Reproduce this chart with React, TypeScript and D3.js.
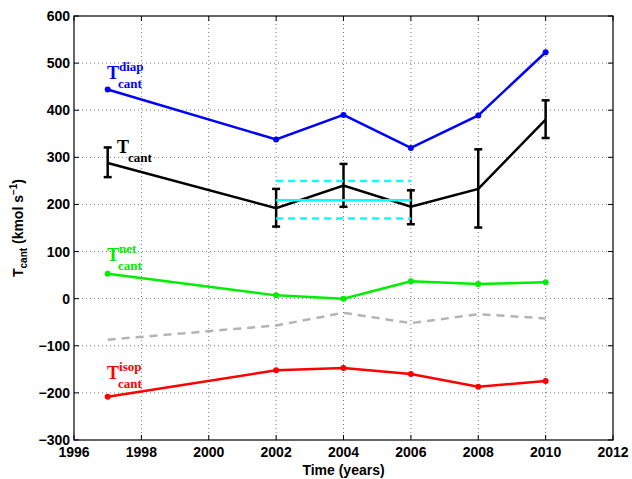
import React from 'react';
import * as d3 from 'd3';

// values
const years = [1997, 2002, 2004, 2006, 2008, 2010];
const diap = [444, 338, 390, 320, 389, 523];
const total = [288, 192, 240, 195, 233, 380];
const totalLo = [258, 153, 195, 158, 151, 341];
const totalHi = [321, 233, 286, 230, 317, 421];
const net = [53, 7, 0, 37, 31, 35];
const other = [-87, -57, -30, -52, -33, -42];
const isop = [-208, -152, -147, -160, -187, -175];

const meanSpan = [2002, 2006];
const meanVal = 209;
const meanBand = [170, 250];

const xTicks = [1996, 1998, 2000, 2002, 2004, 2006, 2008, 2010, 2012];
const yTicks = [-300, -200, -100, 0, 100, 200, 300, 400, 500, 600];

const W = 632;
const H = 479;
const left = 74, right = 613, top = 16, bottom = 440;

const sans = 'Liberation Sans, Arial, sans-serif';
const serif = 'Liberation Serif, Times New Roman, serif';

export default function App() {
  const x = d3.scaleLinear().domain([1996, 2012]).range([left, right]);
  const y = d3.scaleLinear().domain([-300, 600]).range([bottom, top]);

  const line = (vals: number[]) =>
    d3.line<number>().x((_, i) => x(years[i])).y(d => y(d))(vals) || '';

  const dots = (vals: number[], color: string) =>
    vals.map((v, i) => <circle key={i} cx={x(years[i])} cy={y(v)} r={3} fill={color} />);

  const label = (lx: number, ly: number, color: string, sup: string | null) => (
    <text x={lx} y={ly} fill={color} fontFamily={serif} fontWeight="bold" fontSize={18}>
      T
      {sup && <tspan fontSize={13} dy={-8}>{sup}</tspan>}
      <tspan fontSize={13} x={lx + 11} dy={sup ? 17 : 9}>cant</tspan>
    </text>
  );

  return (
    <svg width={W} height={H} style={{ position: 'absolute', left: 0, top: 0, background: '#fff' }}>
      <rect x={0} y={0} width={W} height={H} fill="#fff" />
      {/* grid */}
      <g stroke="#555" strokeWidth={0.8} strokeDasharray="1,3">
        {xTicks.slice(1, -1).map(t => (
          <line key={t} x1={x(t)} x2={x(t)} y1={top} y2={bottom} />
        ))}
        {yTicks.slice(1, -1).map(t => (
          <line key={t} x1={left} x2={right} y1={y(t)} y2={y(t)} />
        ))}
      </g>
      {/* ticks */}
      <g stroke="#000" strokeWidth={1}>
        {xTicks.map(t => (
          <g key={t}>
            <line x1={x(t)} x2={x(t)} y1={bottom} y2={bottom - 5} />
            <line x1={x(t)} x2={x(t)} y1={top} y2={top + 5} />
          </g>
        ))}
        {yTicks.map(t => (
          <g key={t}>
            <line x1={left} x2={left + 5} y1={y(t)} y2={y(t)} />
            <line x1={right} x2={right - 5} y1={y(t)} y2={y(t)} />
          </g>
        ))}
      </g>

      {/* series */}
      <path d={line(other)} fill="none" stroke="#b4b4b4" strokeWidth={2.5} strokeDasharray="8,6" />
      <path d={line(diap)} fill="none" stroke="#0000ff" strokeWidth={2.5} />
      {dots(diap, '#0000ff')}
      <path d={line(net)} fill="none" stroke="#00ee00" strokeWidth={2.5} />
      {dots(net, '#00ee00')}
      <path d={line(isop)} fill="none" stroke="#ff0000" strokeWidth={2.5} />
      {dots(isop, '#ff0000')}

      <path d={line(total)} fill="none" stroke="#000" strokeWidth={2.5} />
      <g stroke="#000" strokeWidth={2.5}>
        {years.map((yr, i) => (
          <g key={yr}>
            <line x1={x(yr)} x2={x(yr)} y1={y(totalLo[i])} y2={y(totalHi[i])} />
            <line x1={x(yr) - 4} x2={x(yr) + 4} y1={y(totalLo[i])} y2={y(totalLo[i])} />
            <line x1={x(yr) - 4} x2={x(yr) + 4} y1={y(totalHi[i])} y2={y(totalHi[i])} />
          </g>
        ))}
      </g>

      {/* mean and band */}
      <g stroke="#00ffff" strokeWidth={2.5}>
        <line x1={x(meanSpan[0])} x2={x(meanSpan[1])} y1={y(meanVal)} y2={y(meanVal)} />
        {meanBand.map(b => (
          <line key={b} x1={x(meanSpan[0])} x2={x(meanSpan[1])} y1={y(b)} y2={y(b)} strokeDasharray="7,5" />
        ))}
      </g>

      {/* box */}
      <rect x={left} y={top} width={right - left} height={bottom - top} fill="none" stroke="#000" strokeWidth={1.2} />

      {/* tick labels */}
      <g fontFamily={sans} fontWeight="bold" fontSize={14} fill="#000">
        {xTicks.map(t => (
          <text key={t} x={x(t)} y={457} textAnchor="middle">{t}</text>
        ))}
        {yTicks.map(t => (
          <text key={t} x={left - 4} y={y(t) + 5} textAnchor="end">{t < 0 ? '\u2212' + Math.abs(t) : t}</text>
        ))}
        <text x={(left + right) / 2} y={475} textAnchor="middle">Time (years)</text>
        <text transform={`translate(23, ${(top + bottom) / 2}) rotate(-90)`} textAnchor="middle">
          T<tspan fontSize={10} dy={4}>cant</tspan>
          <tspan dy={-4}> (kmol s</tspan>
          <tspan fontSize={10} dy={-6}>{'\u22121'}</tspan>
          <tspan dy={6}>)</tspan>
        </text>
      </g>

      {/* series labels */}
      {label(107, 79, '#0000ff', 'diap')}
      {label(117, 153, '#000', null)}
      {label(107, 261, '#00ee00', 'net')}
      {label(107, 379, '#ff0000', 'isop')}
    </svg>
  );
}
